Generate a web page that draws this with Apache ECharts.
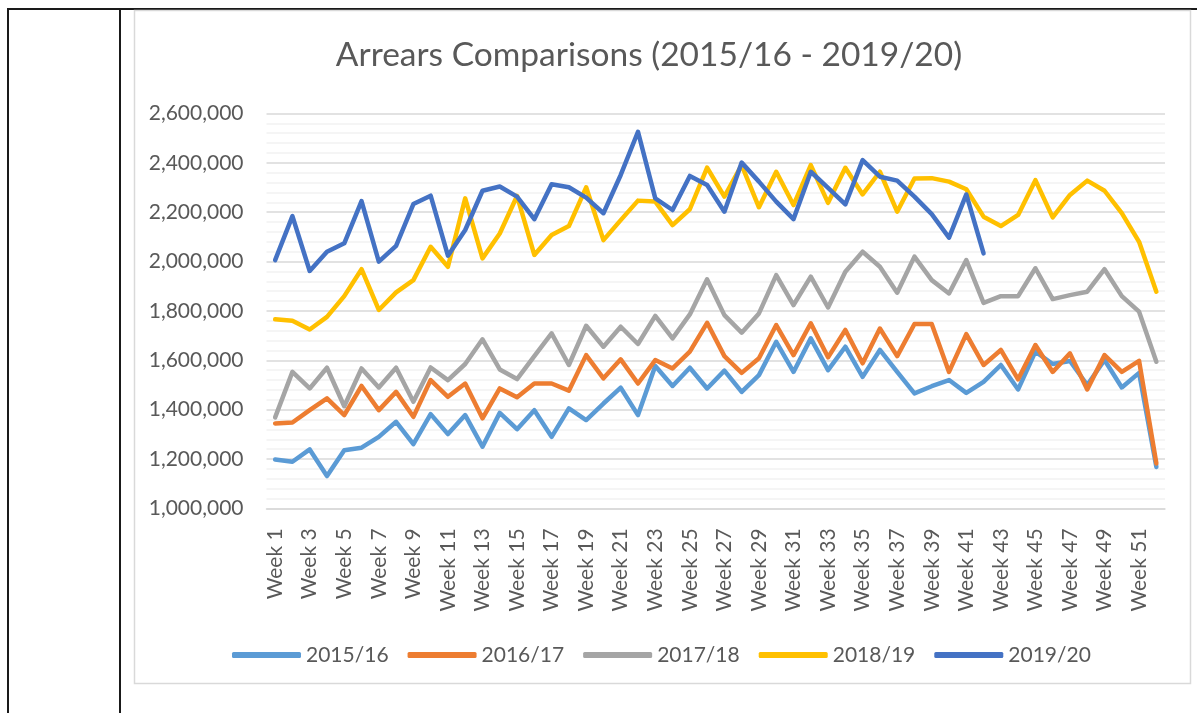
<!DOCTYPE html>
<html>
<head>
<meta charset="utf-8">
<title>Arrears Comparisons</title>
<script src="https://cdn.jsdelivr.net/npm/echarts@6/dist/echarts.min.js"></script>
<style>
  html, body { margin: 0; padding: 0; background: #ffffff; }
  #chart { width: 1197px; height: 713px; }
</style>
</head>
<body>
<div id="chart"></div>
<script>
// Weekly arrears totals, one array per financial year
const weeks = [];
for (let i = 1; i <= 52; i++) weeks.push('Week ' + i);

const seriesNames = ['2015/16', '2016/17', '2017/18', '2018/19', '2019/20'];
const seriesColors = ['#5B9BD5', '#ED7D31', '#A5A5A5', '#FFC000', '#4472C4'];

const arrears1516 = [1198000, 1189000, 1239000, 1131000, 1236000, 1246000, 1290000, 1351000, 1260000, 1382000,
  1301000, 1378000, 1250000, 1387000, 1321000, 1398000, 1290000, 1405000, 1358000, 1425000,
  1489000, 1378000, 1577000, 1496000, 1570000, 1486000, 1558000, 1472000, 1540000, 1675000,
  1553000, 1689000, 1560000, 1655000, 1533000, 1642000, 1553000, 1466000, 1495000, 1520000,
  1468000, 1513000, 1581000, 1482000, 1635000, 1585000, 1597000, 1500000, 1601000, 1490000,
  1549000, 1168000];

const arrears1617 = [1344000, 1348000, 1398000, 1446000, 1378000, 1496000, 1398000, 1472000, 1371000, 1520000,
  1452000, 1506000, 1365000, 1486000, 1450000, 1506000, 1506000, 1477000, 1621000, 1527000,
  1604000, 1506000, 1601000, 1567000, 1635000, 1752000, 1617000, 1549000, 1608000, 1743000,
  1621000, 1750000, 1612000, 1723000, 1588000, 1729000, 1617000, 1747000, 1747000, 1553000,
  1706000, 1581000, 1642000, 1523000, 1662000, 1553000, 1628000, 1482000, 1621000, 1553000,
  1598000, 1182000];

const arrears1718 = [1369000, 1553000, 1486000, 1570000, 1414000, 1567000, 1490000, 1570000, 1432000, 1571000,
  1520000, 1585000, 1685000, 1563000, 1524000, 1617000, 1709000, 1581000, 1740000, 1655000,
  1736000, 1666000, 1780000, 1689000, 1786000, 1928000, 1783000, 1712000, 1790000, 1945000,
  1824000, 1939000, 1814000, 1959000, 2040000, 1979000, 1874000, 2020000, 1925000, 1871000,
  2006000, 1833000, 1860000, 1860000, 1973000, 1848000, 1864000, 1878000, 1969000, 1860000,
  1797000, 1594000];

const arrears1819 = [1766000, 1760000, 1725000, 1776000, 1860000, 1969000, 1804000, 1875000, 1925000, 2060000,
  1979000, 2256000, 2013000, 2114000, 2266000, 2027000, 2108000, 2144000, 2301000, 2087000,
  2168000, 2247000, 2243000, 2148000, 2212000, 2381000, 2263000, 2391000, 2220000, 2364000,
  2229000, 2391000, 2238000, 2380000, 2272000, 2364000, 2202000, 2337000, 2338000, 2324000,
  2293000, 2182000, 2144000, 2189000, 2330000, 2179000, 2270000, 2328000, 2287000, 2196000,
  2080000, 1878000];

const arrears1920 = [2006000, 2184000, 1962000, 2040000, 2074000, 2245000, 2000000, 2064000, 2233000, 2267000,
  2024000, 2128000, 2287000, 2304000, 2263000, 2172000, 2313000, 2301000, 2259000, 2196000,
  2351000, 2526000, 2256000, 2209000, 2347000, 2310000, 2202000, 2401000, 2324000, 2243000,
  2172000, 2364000, 2299000, 2232000, 2411000, 2344000, 2328000, 2263000, 2192000, 2097000,
  2272000, 2033000];

const seriesData = [arrears1516, arrears1617, arrears1718, arrears1819, arrears1920];

const FONT = 'Lato, "Noto Sans", sans-serif';
const TEXT = '#595959';

const chart = echarts.init(document.getElementById('chart'), null, { renderer: 'canvas' });

chart.setOption({
  animation: false,
  backgroundColor: '#ffffff',
  color: seriesColors,
  graphic: [
    // page table rules
    { type: 'rect', shape: { x: 7, y: 8, width: 1190, height: 2 }, style: { fill: '#1a1a1a' }, silent: true },
    { type: 'rect', shape: { x: 7, y: 8, width: 2, height: 705 }, style: { fill: '#1a1a1a' }, silent: true },
    { type: 'rect', shape: { x: 119, y: 8, width: 2, height: 705 }, style: { fill: '#1a1a1a' }, silent: true },
    // chart area border
    { type: 'rect', shape: { x: 134.5, y: 10.5, width: 1056, height: 673 },
      style: { fill: 'none', stroke: '#D9D9D9', lineWidth: 1.5 }, silent: true },
    { type: 'text', x: 649, y: 55,
      style: { text: 'Arrears Comparisons (2015/16 - 2019/20)', font: '33.5px ' + FONT, fill: TEXT,
               textAlign: 'center', textVerticalAlign: 'middle' }, silent: true }
  ],
  legend: {
    data: seriesNames,
    left: 232,
    top: 644,
    padding: 0,
    icon: 'roundRect',
    itemWidth: 69,
    itemHeight: 6,
    itemGap: 19,
    textStyle: { color: TEXT, fontFamily: FONT, fontSize: 21, lineHeight: 22, padding: [0, 0, 0, 0] }
  },
  grid: { left: 266.5, right: 32, top: 113.5, bottom: 204.6, containLabel: false },
  xAxis: {
    type: 'category',
    data: weeks,
    boundaryGap: true,
    axisLine: { show: true, lineStyle: { color: '#D9D9D9', width: 1.5 } },
    axisTick: { show: false },
    axisLabel: { interval: 1, rotate: 90, margin: 20, color: TEXT, fontFamily: FONT, fontSize: 21 },
    splitLine: { show: false }
  },
  yAxis: {
    type: 'value',
    min: 1000000,
    max: 2600000,
    interval: 200000,
    axisLine: { show: false },
    axisTick: { show: false },
    axisLabel: {
      margin: 23,
      color: TEXT, fontFamily: FONT, fontSize: 21,
      formatter: v => v.toLocaleString('en-US')
    },
    splitLine: { show: true, lineStyle: { color: '#D9D9D9', width: 1.5 } },
    minorTick: { show: false, splitNumber: 5 },
    minorSplitLine: { show: true, lineStyle: { color: '#F2F2F2', width: 1.5 } }
  },
  series: seriesNames.map((name, i) => ({
    name,
    type: 'line',
    data: seriesData[i],
    symbol: 'none',
    smooth: false,
    lineStyle: { width: 4.5, color: seriesColors[i], cap: 'round', join: 'round' },
    itemStyle: { color: seriesColors[i] },
    emphasis: { disabled: true }
  }))
});
</script>
</body>
</html>
